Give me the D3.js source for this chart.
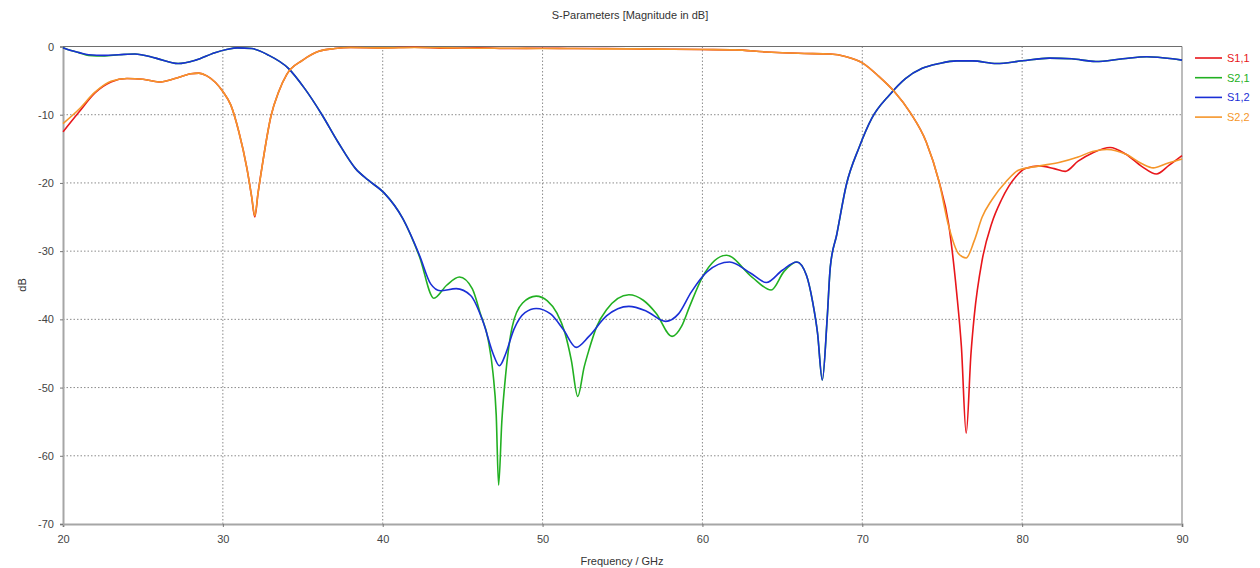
<!DOCTYPE html>
<html>
<head>
<meta charset="utf-8">
<script src="https://cdn.jsdelivr.net/npm/d3@7"></script>
<style>
	body { margin: 0; background: #fff; }
	text { font-family: 'Liberation Sans', Arial, sans-serif; }
</style>
</head>
<body>
<script>
'use strict';

// values, [frequency in GHz, magnitude in dB]
var s11 = [
	[20, -12.5], [21, -9.6], [22, -6.8], [23, -5.2], [24, -4.7], [25, -4.8], [26, -5.2],
	[27, -4.7], [28, -4.0], [28.5, -3.9], [29, -4.3], [30, -6.6], [30.5, -8.6], [31, -12.5],
	[31.5, -17.8], [31.8, -22], [32, -25], [32.2, -21.5], [32.5, -16.9], [33, -10.3],
	[33.5, -6.6], [34, -4.1], [35, -2.0], [36, -0.7], [37, -0.3], [38, -0.15], [40, -0.2],
	[42, -0.1], [44, -0.25], [46, -0.2], [48, -0.3], [50, -0.25], [52, -0.3], [54, -0.3],
	[56, -0.35], [58, -0.4], [60, -0.45], [62, -0.5], [64, -0.8], [66, -1.0], [68, -1.1],
	[69, -1.5], [70, -2.4], [71, -4.3], [72, -6.6], [73, -9.7], [74, -14.0], [74.8, -19.8],
	[75.4, -26], [75.9, -36], [76.2, -44], [76.5, -56.7], [76.8, -45], [77.0, -39.6],
	[77.5, -31.3], [78.1, -25.9], [78.7, -22.5], [79.6, -19.1], [80.2, -17.9], [81.1, -17.5],
	[82, -17.9], [82.7, -18.3], [83.5, -16.8], [84.4, -15.6], [85.5, -14.8], [86.5, -15.8],
	[87.5, -17.6], [88.4, -18.7], [89.2, -17.4], [90, -16.0]
];

var s21 = [
	[20, -0.2], [20.5, -0.6], [21, -0.9], [21.6, -1.3], [22.6, -1.4], [23.5, -1.2], [24.5, -1.1],
	[25.8, -1.7], [27.2, -2.5], [28.3, -2.0], [29.5, -0.9], [30.3, -0.4], [30.9, -0.2],
	[31.8, -0.3], [32.8, -1.2], [34.1, -3.2], [35.1, -6.1], [36.2, -10.0], [37.2, -14.0],
	[38.3, -17.9], [39.1, -19.6], [40.1, -21.5], [41.25, -25.2], [42.3, -30.8], [43.2, -36.9],
	[44.0, -35], [44.8, -33.8], [45.6, -35.5], [46.1, -39.1], [46.6, -43], [46.9, -47.9],
	[47.1, -54], [47.25, -64.3], [47.45, -55], [47.7, -47.9], [48.1, -41.1], [48.75, -37.6],
	[49.6, -36.6], [50.3, -37.3], [50.9, -39.1], [51.4, -42], [51.8, -46], [52.2, -51.3],
	[52.6, -47], [52.9, -44.5], [53.4, -41], [54.0, -38.6], [55.4, -36.4], [56.3, -37.2],
	[57.1, -39.1], [58.1, -42.5], [58.7, -41], [59.2, -38.1], [60.0, -33.8], [61.5, -30.6],
	[63.1, -33.8], [64.3, -35.7], [65.1, -33], [65.9, -31.6], [66.5, -33.5], [66.9, -37.5],
	[67.2, -42], [67.5, -48.9], [67.8, -40], [68.0, -32.3], [68.4, -27.6], [69.0, -20.3],
	[69.8, -14.8], [70.6, -10.5], [71.7, -7.1], [72.7, -4.7], [73.75, -3.2], [74.8, -2.5],
	[75.9, -2.1], [76.9, -2.1], [78.4, -2.5], [80, -2.1], [81.7, -1.7], [83.1, -1.8],
	[84.6, -2.2], [86.3, -1.8], [87.8, -1.5], [89.4, -1.8], [90, -2.0]
];

var s12 = [
	[20, -0.2], [20.5, -0.6], [21, -0.9], [21.6, -1.2], [22.6, -1.3], [23.5, -1.2], [24.5, -1.1],
	[25.8, -1.7], [27.2, -2.5], [28.3, -2.0], [29.5, -0.9], [30.3, -0.4], [30.9, -0.2],
	[31.8, -0.3], [32.8, -1.2], [34.1, -3.2], [35.1, -6.1], [36.2, -10.0], [37.2, -14.0],
	[38.3, -17.9], [39.1, -19.6], [40.1, -21.5], [41.25, -25.2], [42.3, -30.6], [43.0, -34.8],
	[43.6, -35.8], [44.6, -35.5], [45.5, -36.5], [46.3, -40.5], [46.9, -45], [47.3, -46.8],
	[47.7, -45], [48.2, -41.5], [48.9, -39], [49.6, -38.4], [50.5, -39.2], [51.3, -41.5],
	[52.1, -44.1], [52.9, -42.5], [54.0, -39.5], [55.4, -38.1], [56.5, -38.8], [57.7, -40.3],
	[58.5, -39.2], [59.3, -36], [60.3, -33], [61.7, -31.6], [63, -33.2], [64.0, -34.6],
	[65, -32.8], [65.9, -31.6], [66.5, -33.5], [66.9, -37.5], [67.2, -42], [67.5, -48.9],
	[67.8, -40], [68.0, -32.3], [68.4, -27.6], [69.0, -20.3], [69.8, -14.8], [70.6, -10.5],
	[71.7, -7.1], [72.7, -4.7], [73.75, -3.2], [74.8, -2.5], [75.9, -2.1], [76.9, -2.1],
	[78.4, -2.5], [80, -2.1], [81.7, -1.7], [83.1, -1.8], [84.6, -2.2], [86.3, -1.8],
	[87.8, -1.5], [89.4, -1.8], [90, -2.0]
];

var s22 = [
	[20, -11.3], [21, -9.2], [22, -6.7], [23, -5.1], [24, -4.7], [25, -4.8], [26, -5.2],
	[27, -4.7], [28, -4.0], [28.5, -3.9], [29, -4.3], [30, -6.6], [30.5, -8.6], [31, -12.5],
	[31.5, -17.8], [31.8, -22], [32, -24.8], [32.2, -21.5], [32.5, -16.9], [33, -10.3],
	[33.5, -6.6], [34, -4.1], [35, -2.0], [36, -0.7], [37, -0.3], [38, -0.15], [40, -0.2],
	[42, -0.15], [44, -0.2], [46, -0.25], [48, -0.25], [50, -0.3], [52, -0.3], [54, -0.35],
	[56, -0.35], [58, -0.4], [60, -0.45], [62, -0.5], [64, -0.8], [66, -1.0], [68, -1.1],
	[69, -1.5], [70, -2.4], [71, -4.3], [72, -6.6], [73, -9.7], [74, -14.0], [74.8, -19.8],
	[75.4, -26.3], [76.0, -30.3], [76.5, -31.0], [77.0, -28.5], [77.5, -25.0], [78.1, -22.5],
	[79.0, -19.8], [79.8, -18.1], [81.1, -17.5], [82.3, -17.0], [83.5, -16.2], [84.4, -15.4],
	[85.3, -15.1], [86.5, -15.8], [87.5, -17.2], [88.2, -17.8], [89.0, -17.2], [90, -16.5]
];

var seriesNames = ['S1,1', 'S2,1', 'S1,2', 'S2,2'],
	seriesData = [s11, s21, s12, s22],
	colors = ['#e8161b', '#22b022', '#1a2fd6', '#f5962a'],
	xTicks = [20, 30, 40, 50, 60, 70, 80, 90],
	yTicks = [0, -10, -20, -30, -40, -50, -60, -70];

var margin = {top: 46.5, left: 63, right: 78, bottom: 44},
	width = 1260 - margin.left - margin.right,
	height = 568 - margin.top - margin.bottom;

var svg = d3.select('body').append('svg')
	.attr('width', 1260)
	.attr('height', 568);

var g = svg.append('g')
	.attr('transform', 'translate(' + margin.left + ',' + margin.top + ')');

var x = d3.scaleLinear().domain([20, 90]).range([0, width]),
	y = d3.scaleLinear().domain([-70, 0]).range([height, 0]);

var line = d3.line()
	.curve(d3.curveMonotoneX)
	.x(function(d) { return x(d[0]); })
	.y(function(d) { return y(d[1]); });

// dotted grid
g.append('g')
	.selectAll('line')
	.data(xTicks.slice(1, -1)).enter()
	.append('line')
		.attr('x1', function(d) { return x(d); })
		.attr('x2', function(d) { return x(d); })
		.attr('y1', 0)
		.attr('y2', height)
		.attr('stroke', '#8c8c8c')
		.attr('stroke-dasharray', '1.5,2');

g.append('g')
	.selectAll('line')
	.data(yTicks.slice(1, -1)).enter()
	.append('line')
		.attr('x1', 0)
		.attr('x2', width)
		.attr('y1', function(d) { return y(d); })
		.attr('y2', function(d) { return y(d); })
		.attr('stroke', '#8c8c8c')
		.attr('stroke-dasharray', '1.5,2');

// axes, plain hyphen for negative labels
var plain = function(d) { return String(d); };

var xAxis = g.append('g')
	.attr('transform', 'translate(0,' + height + ')')
	.call(d3.axisBottom(x).tickValues(xTicks).tickFormat(plain).tickSize(3).tickPadding(8));

var yAxis = g.append('g')
	.call(d3.axisLeft(y).tickValues(yTicks).tickFormat(plain).tickSize(3).tickPadding(6));

[xAxis, yAxis].forEach(function(a) {
	a.select('.domain').attr('stroke', '#a6a6a6').attr('stroke-width', 2);
	a.selectAll('.tick line').attr('stroke', '#777');
	a.selectAll('.tick text')
		.attr('fill', '#444')
		.style('font-size', '11px')
		.style('font-family', "'Liberation Sans', Arial, sans-serif");
});

// frame on the right and top
g.append('line')
	.attr('x1', width).attr('x2', width)
	.attr('y1', 0).attr('y2', height)
	.attr('stroke', '#a6a6a6')
	.attr('stroke-width', 1.5);

g.append('line')
	.attr('x1', 0).attr('x2', width)
	.attr('y1', 0).attr('y2', 0)
	.attr('stroke', '#6e6e6e')
	.attr('stroke-width', 1);

// curves
seriesData.forEach(function(d, i) {
	g.append('path')
		.datum(d)
		.attr('fill', 'none')
		.attr('stroke', colors[i])
		.attr('stroke-width', 1.6)
		.attr('stroke-linejoin', 'round')
		.attr('d', line);
});

// titles
svg.append('text')
	.attr('x', 630)
	.attr('y', 19)
	.attr('text-anchor', 'middle')
	.attr('fill', '#333')
	.style('font-size', '11px')
	.text('S-Parameters [Magnitude in dB]');

svg.append('text')
	.attr('x', 622)
	.attr('y', 565)
	.attr('text-anchor', 'middle')
	.attr('fill', '#333')
	.style('font-size', '11px')
	.text('Frequency / GHz');

svg.append('text')
	.attr('transform', 'translate(26,285) rotate(-90)')
	.attr('text-anchor', 'middle')
	.attr('fill', '#333')
	.style('font-size', '11px')
	.text('dB');

// legend
var legend = svg.selectAll('.legend')
	.data(seriesNames).enter()
	.append('g')
		.attr('class', 'legend')
		.attr('transform', function(d, i) {
			return 'translate(1195,' + (58 + i * 19.7) + ')';
		});

legend.append('line')
	.attr('x1', 0)
	.attr('x2', 27)
	.attr('stroke', function(d, i) { return colors[i]; })
	.attr('stroke-width', 1.6);

legend.append('text')
	.attr('x', 32)
	.attr('dy', '0.35em')
	.attr('fill', function(d, i) { return colors[i]; })
	.style('font-size', '11px')
	.text(function(d) { return d; });
</script>
</body>
</html>
